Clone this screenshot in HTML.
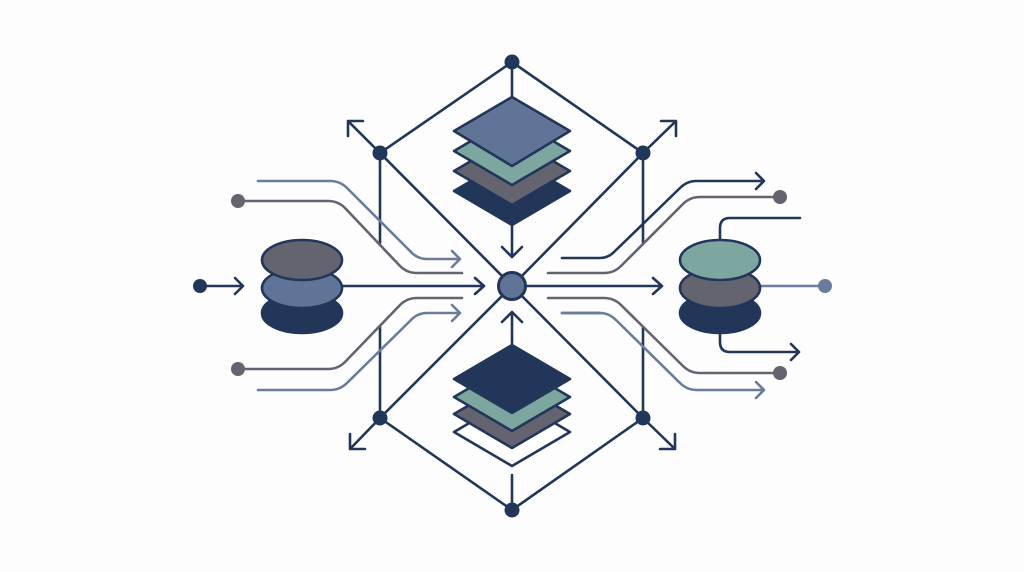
<!DOCTYPE html>
<html><head><style>html,body{margin:0;padding:0;background:#fdfdfd;}svg{display:block}</style></head>
<body>
<svg width="1024" height="572" viewBox="0 0 1024 572" xmlns="http://www.w3.org/2000/svg">
<rect width="1024" height="572" fill="#fdfdfd"/>
<g fill="none" stroke-linecap="round" stroke-linejoin="round">
<!-- diamond frame -->
<g stroke="#22365a" stroke-width="2.6">
<path d="M512 62 L380 153 L512 286 L380 418 L512 510 L643 418 L512 286 L643 153 Z"/>
<path d="M512 62 V97 M380 153 V243 M643 153 V243 M380 327 V418 M643 327 V418 M512 475 V510"/>
<path d="M380 153 L348 121 M348 121 H363 M348 121 V136"/>
<path d="M643 153 L676 121 M676 121 H661 M676 121 V136"/>
<path d="M380 418 L350 449 M350 449 H365 M350 449 V434"/>
<path d="M643 418 L675 449 M675 449 H660 M675 449 V434"/>
<path d="M512 225 V257 M502 247 L512 257 L522 247"/>
<path d="M512 343 V312 M502 322 L512 312 L522 322"/>
<path d="M200 286 H243 M235 278 L243 286 L235 294"/>
<path d="M342 286 H484 M475 278 L484 286 L475 294"/>
<path d="M526 286 H662 M653 278 L662 286 L653 294"/>
<path d="M562 258 H600 Q608 258 614 252 L680 188 Q687 181 696 181 H764 M756 173 L764 181 L756 189"/>
<path d="M720 240 V228 Q720 218 730 218 H800"/>
<path d="M720 333 V342 Q720 352 730 352 H799 M791 344 L799 352 L791 360"/>
<path d="M562 313 H600" />
</g>
<!-- gray curves -->
<g stroke="#636470" stroke-width="2.6">
<path d="M238 201 H328 Q338 201 345 208 L400 266 Q407 273 417 273 H462"/>
<path d="M238 369 H328 Q338 369 345 362 L400 305 Q407 298 417 298 H462"/>
<path d="M548 273 H604 Q614 273 621 266 L683 204 Q690 197 700 197 H780"/>
<path d="M548 298 H604 Q614 298 621 305 L683 366 Q690 373 700 373 H780"/>
</g>
<!-- blue-gray curves -->
<g stroke="#6a7c9c" stroke-width="2.6">
<path d="M258 181 H330 Q340 181 347 188 L410 251 Q417 259 427 259 H460 M452 251 L460 259 L452 267"/>
<path d="M258 390 H330 Q340 390 347 383 L410 321 Q417 313 427 313 H460 M452 305 L460 313 L452 321"/>
<path d="M562 313 H600 Q609 313 616 320 L680 383 Q687 390 697 390 H764 M756 382 L764 390 L756 398"/>
<path d="M760 286 H825"/>
</g>
</g>
<!-- dots -->
<circle cx="512" cy="62" r="7.5" fill="#22365a"/>
<circle cx="380" cy="153" r="7.5" fill="#22365a"/>
<circle cx="643" cy="153" r="7.5" fill="#22365a"/>
<circle cx="380" cy="418" r="7.5" fill="#22365a"/>
<circle cx="643" cy="418" r="7.5" fill="#22365a"/>
<circle cx="512" cy="510" r="7.5" fill="#22365a"/>
<circle cx="200" cy="286" r="7" fill="#22365a"/>
<circle cx="238" cy="201" r="7" fill="#636470"/>
<circle cx="238" cy="369" r="7" fill="#636470"/>
<circle cx="780" cy="197" r="7" fill="#636470"/>
<circle cx="780" cy="373" r="7" fill="#636470"/>
<circle cx="825" cy="286" r="7" fill="#6a7c9c"/>
<circle cx="512" cy="286" r="13.5" fill="#5f7497" stroke="#22365a" stroke-width="3"/>
<!-- top stack -->
<g stroke="#22365a" stroke-width="2.6" stroke-linejoin="round">
<path d="M454 191 L512 157 L570 191 L512 225 Z" fill="#22365a"/>
<path d="M454 171 L512 137 L570 171 L512 205 Z" fill="#636470"/>
<path d="M454 151 L512 117 L570 151 L512 185 Z" fill="#7da6a0"/>
<path d="M454 131 L512 97 L570 131 L512 166 Z" fill="#5f7497"/>
</g>
<!-- bottom stack -->
<g stroke="#22365a" stroke-width="2.6" stroke-linejoin="round">
<path d="M454 432 L512 398 L570 432 L512 466 Z" fill="#ffffff"/>
<path d="M454 414 L512 380 L570 414 L512 448 Z" fill="#636470"/>
<path d="M454 397 L512 363 L570 397 L512 431 Z" fill="#7da6a0"/>
<path d="M454 379 L512 345 L570 379 L512 413 Z" fill="#22365a"/>
</g>
<!-- left cylinder -->
<g stroke="#22365a" stroke-width="2.6">
<ellipse cx="302" cy="313" rx="40" ry="20" fill="#22365a"/>
<ellipse cx="302" cy="288" rx="40" ry="20" fill="#5f7497"/>
<ellipse cx="302" cy="260" rx="40" ry="20" fill="#636470"/>
</g>
<!-- right cylinder -->
<g stroke="#22365a" stroke-width="2.6">
<ellipse cx="720" cy="313" rx="40" ry="20" fill="#22365a"/>
<ellipse cx="720" cy="288" rx="40" ry="20" fill="#636470"/>
<ellipse cx="720" cy="260" rx="40" ry="20" fill="#7da6a0"/>
</g>
</svg>
</body></html>
